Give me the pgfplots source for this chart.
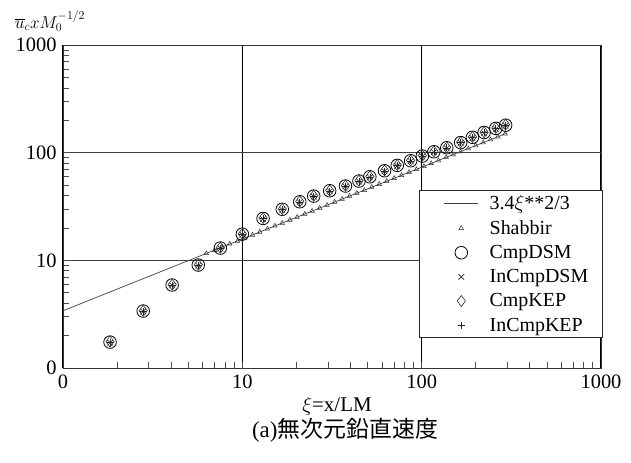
\documentclass[border=0pt]{standalone}
\usepackage{pgfplots}
\pgfplotsset{compat=1.18}
\usepackage{fontspec}
\setmainfont{Liberation Serif}
\newfontfamily\cjk{Noto Sans CJK JP}
\pgfplotsset{
  mylinelegend/.style={legend image code/.code={\path (-0.45cm,0cm); \draw[##1] (0cm,0cm) -- (1.2cm,0cm);}},
  mymarklegend/.style={legend image code/.code={\path (-0.45cm,0cm) (1.2cm,0cm); \draw[##1] plot coordinates {(0.6cm,0cm)};}},
}
\begin{document}
\begin{tikzpicture}
\begin{loglogaxis}[
  at={(0,0)}, anchor=south west,
  scale only axis, width=538bp, height=323bp,
  xmin=1, xmax=1000, ymin=1, ymax=1000,
  xtick={1,10,100,1000}, xticklabels={0,10,100,1000},
  ytick={1,10,100,1000}, yticklabels={0,10,100,1000},
  tick pos=left, tick align=inside,
  major tick length=0pt, minor tick length=6bp,
  minor tick style={black!70, line width=0.6pt},
  grid=major,
  major x grid style={black, line width=1.1pt},
  major y grid style={black!75, line width=0.8pt},
  axis line style={black!80, line width=0.8pt},
  ticklabel style={font=\fontsize{20.5}{22}\selectfont},
  xticklabel style={yshift=-3bp},
  yticklabel style={xshift=-3bp},
  legend cell align=left,
  legend style={at={(1.003,0.093)}, anchor=south east,
    font=\fontsize{20}{22}\selectfont, draw=black!85, line width=0.8pt,
    inner xsep=12bp, inner ysep=3bp, row sep=5.5bp, column sep=9bp, fill=white},
]
\addplot[black!75, line width=0.7pt, mylinelegend]
  coordinates {(1,3.4) (300,152.4)};
\addlegendentry{3.4$\xi$**2/3}
\addplot[only marks, mark=triangle, mark size=2.6bp, black!80, line width=0.5pt, mymarklegend]
  coordinates {
  (6.3,11.6) (7,12.4) (7.7,13.3) (8.5,14.2) (9.4,15.1) (10.3,16.1) (11.4,17.2)
  (12.5,18.3) (13.8,19.6) (15.2,20.9) (16.7,22.2) (18.4,23.7) (20.2,25.2)
  (22.3,26.9) (24.5,28.7) (27,30.6) (29.7,32.6) (32.7,34.8) (36,37.1)
  (39.6,39.5) (43.5,42.1) (47.9,44.8) (52.7,47.8) (58,50.9) (63.8,54.3)
  (70.2,57.9) (77.2,61.6) (85,65.7) (93.5,70.0) (103,74.7) (113,79.5)
  (124,84.6) (137,90.4) (150,96.0) (165,102.3) (182,109.2) (200,116.3)
  (220,123.9) (242,132.1) (266,140.6) (292,149.7)};
\addlegendentry{Shabbir}
\addplot[only marks, mark=o, mark size=6.3bp, black, line width=0.8pt, mymarklegend]
  coordinates {
  (1.83,1.74) (2.80,3.38) (4.06,5.9) (5.68,9.04) (7.54,13.0) (10.0,17.5)
  (13.05,24.5) (16.7,29.8) (20.9,35.0) (25.0,39.5) (30.7,44.3) (37.6,49.0)
  (44.7,54.5) (51.4,59.7) (62.1,67.9) (73.1,76.2) (86.8,84.1) (100.9,93)
  (117,102) (138,111) (165,124) (192,139) (223,154) (259,168) (294,180)};
\addlegendentry{CmpDSM}
\addplot[only marks, mark=x, mark size=4bp, black!85, line width=0.6pt, mymarklegend]
  coordinates {
  (1.83,1.72) (2.80,3.35) (4.06,5.85) (5.68,8.95) (7.54,12.9) (10.0,17.3)
  (13.05,24.2) (16.7,29.5) (20.9,34.6) (25.0,39.1) (30.7,43.8) (37.6,48.5)
  (44.7,54.0) (51.4,59.1) (62.1,67.2) (73.1,75.4) (86.8,83.3) (100.9,92)
  (117,101) (138,110) (165,123) (192,137) (223,152) (259,166) (294,178)};
\addlegendentry{InCmpDSM}
\addplot[only marks, mark=diamond, mark size=5.5bp, black!85, line width=0.6pt, mymarklegend]
  coordinates {
  (1.83,1.76) (2.80,3.40) (4.06,5.95) (5.68,9.1) (7.54,13.1) (10.0,17.6)
  (13.05,24.7) (16.7,30.0) (20.9,35.3) (25.0,39.8) (30.7,44.6) (37.6,49.4)
  (44.7,55.0) (51.4,60.2) (62.1,68.5) (73.1,76.8) (86.8,84.8) (100.9,94)
  (117,103) (138,112) (165,125) (192,140) (223,155) (259,170) (294,182)};
\addlegendentry{CmpKEP}
\addplot[only marks, mark=+, mark size=3.5bp, black!85, line width=0.6pt, mymarklegend]
  coordinates {
  (1.83,1.73) (2.80,3.36) (4.06,5.88) (5.68,9.0) (7.54,12.95) (10.0,17.4)
  (13.05,24.4) (16.7,29.6) (20.9,34.8) (25.0,39.3) (30.7,44.0) (37.6,48.7)
  (44.7,54.2) (51.4,59.4) (62.1,67.5) (73.1,75.8) (86.8,83.7) (100.9,92.5)
  (117,101.5) (138,110.5) (165,123.5) (192,138) (223,153) (259,167) (294,179)};
\addlegendentry{InCmpKEP}
\end{loglogaxis}
\node at (-13bp,347bp) {\fontsize{17.5}{20}\selectfont $\overline{u}_c x M_0^{-1/2}$};
\node at (274bp,-38bp) {\fontsize{21}{23}\selectfont $\xi$=x/LM};
\node at (282bp,-62bp) {\fontsize{23}{26}\selectfont (a)\cjk 無次元鉛直速度};
\pgfresetboundingbox
\path (-63bp,-95bp) rectangle (568bp,368bp);
\end{tikzpicture}
\end{document}
